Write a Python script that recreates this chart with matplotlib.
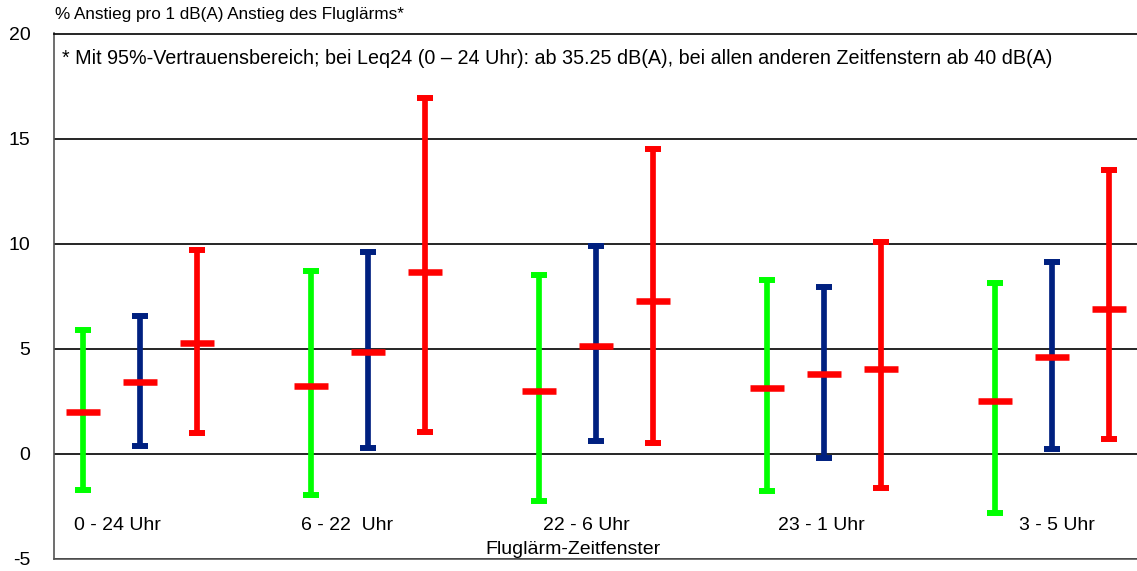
import matplotlib
matplotlib.use('Agg')
import matplotlib.pyplot as plt
import numpy as np

plt.rcParams['font.family'] = ['Liberation Sans', 'DejaVu Sans']

# time windows (x categories)
windows = ['0 - 24 Uhr', '6 - 22  Uhr', '22 - 6 Uhr', '23 - 1 Uhr', '3 - 5 Uhr']

# % increase per 1 dB(A), with 95% confidence limits, three series per window
green_mean = [2.0, 3.22, 3.0, 3.13, 2.5]
green_low = [-1.73, -1.97, -2.25, -1.76, -2.84]
green_high = [5.89, 8.7, 8.52, 8.26, 8.11]

blue_mean = [3.41, 4.83, 5.14, 3.78, 4.59]
blue_low = [0.37, 0.26, 0.62, -0.22, 0.22]
blue_high = [6.56, 9.59, 9.89, 7.92, 9.14]

red_mean = [5.27, 8.67, 7.26, 4.05, 6.9]
red_low = [1.0, 1.02, 0.49, -1.63, 0.69]
red_high = [9.7, 16.92, 14.5, 10.07, 13.52]

yticks = [-5, 0, 5, 10, 15, 20]

series = [
    (green_mean, green_low, green_high, '#00FF00', -0.25),
    (blue_mean, blue_low, blue_high, '#002080', 0.0),
    (red_mean, red_low, red_high, '#FF0000', 0.25),
]
label_shift = [-0.10, -0.09, -0.04, -0.01, 0.02]

fig = plt.figure(figsize=(11.37, 5.71), dpi=100)
ax = fig.add_axes([54 / 1137, 12.3 / 571, 1083 / 1137, 525.2 / 571])

x = np.arange(len(windows))

for mean, low, high, col, off in series:
    mean = np.array(mean)
    yerr = [mean - np.array(low), np.array(high) - mean]
    ax.errorbar(x + off, mean, yerr=yerr, fmt='none', ecolor=col,
                elinewidth=4.1, capsize=6.1, capthick=4.3, zorder=3)
    # mean marker
    ax.plot(x + off, mean, ls='none', marker='_', ms=24.5, mew=4.7,
            color='#FF0000', zorder=4)

for i, name in enumerate(windows):
    ax.text(i + label_shift[i], -3.44, name, ha='center', va='center', fontsize=14)

ax.text(1.90, -4.54, 'Fluglärm-Zeitfenster', ha='center', va='center', fontsize=14)

ax.text(8 / 1083, 1 - 25 / 525.2,
        '* Mit 95%-Vertrauensbereich; bei Leq24 (0 – 24 Uhr): ab 35.25 dB(A), '
        'bei allen anderen Zeitfenstern ab 40 dB(A)',
        transform=ax.transAxes, ha='left', va='center', fontsize=14.2)

fig.text(55 / 1137, 1 - 15 / 571, '% Anstieg pro 1 dB(A) Anstieg des Fluglärms*',
         ha='left', va='center', fontsize=12.3)

ax.set_xlim(-0.377, 4.373)
ax.set_ylim(-5, 20)
ax.set_yticks(yticks)
ax.set_yticklabels([str(v) for v in yticks])
ax.set_xticks([])
ax.tick_params(axis='y', length=0, pad=17, labelsize=14)
ax.yaxis.grid(True, color='black', lw=1.2, zorder=1)
ax.set_axisbelow(True)

ax.spines['right'].set_visible(False)
ax.spines['top'].set_color('black')
ax.spines['top'].set_linewidth(1.2)
ax.spines['left'].set_color('#555555')
ax.spines['left'].set_linewidth(1.2)
ax.spines['bottom'].set_color('#555555')
ax.spines['bottom'].set_linewidth(1.2)

fig.savefig('out.png', dpi=100)
